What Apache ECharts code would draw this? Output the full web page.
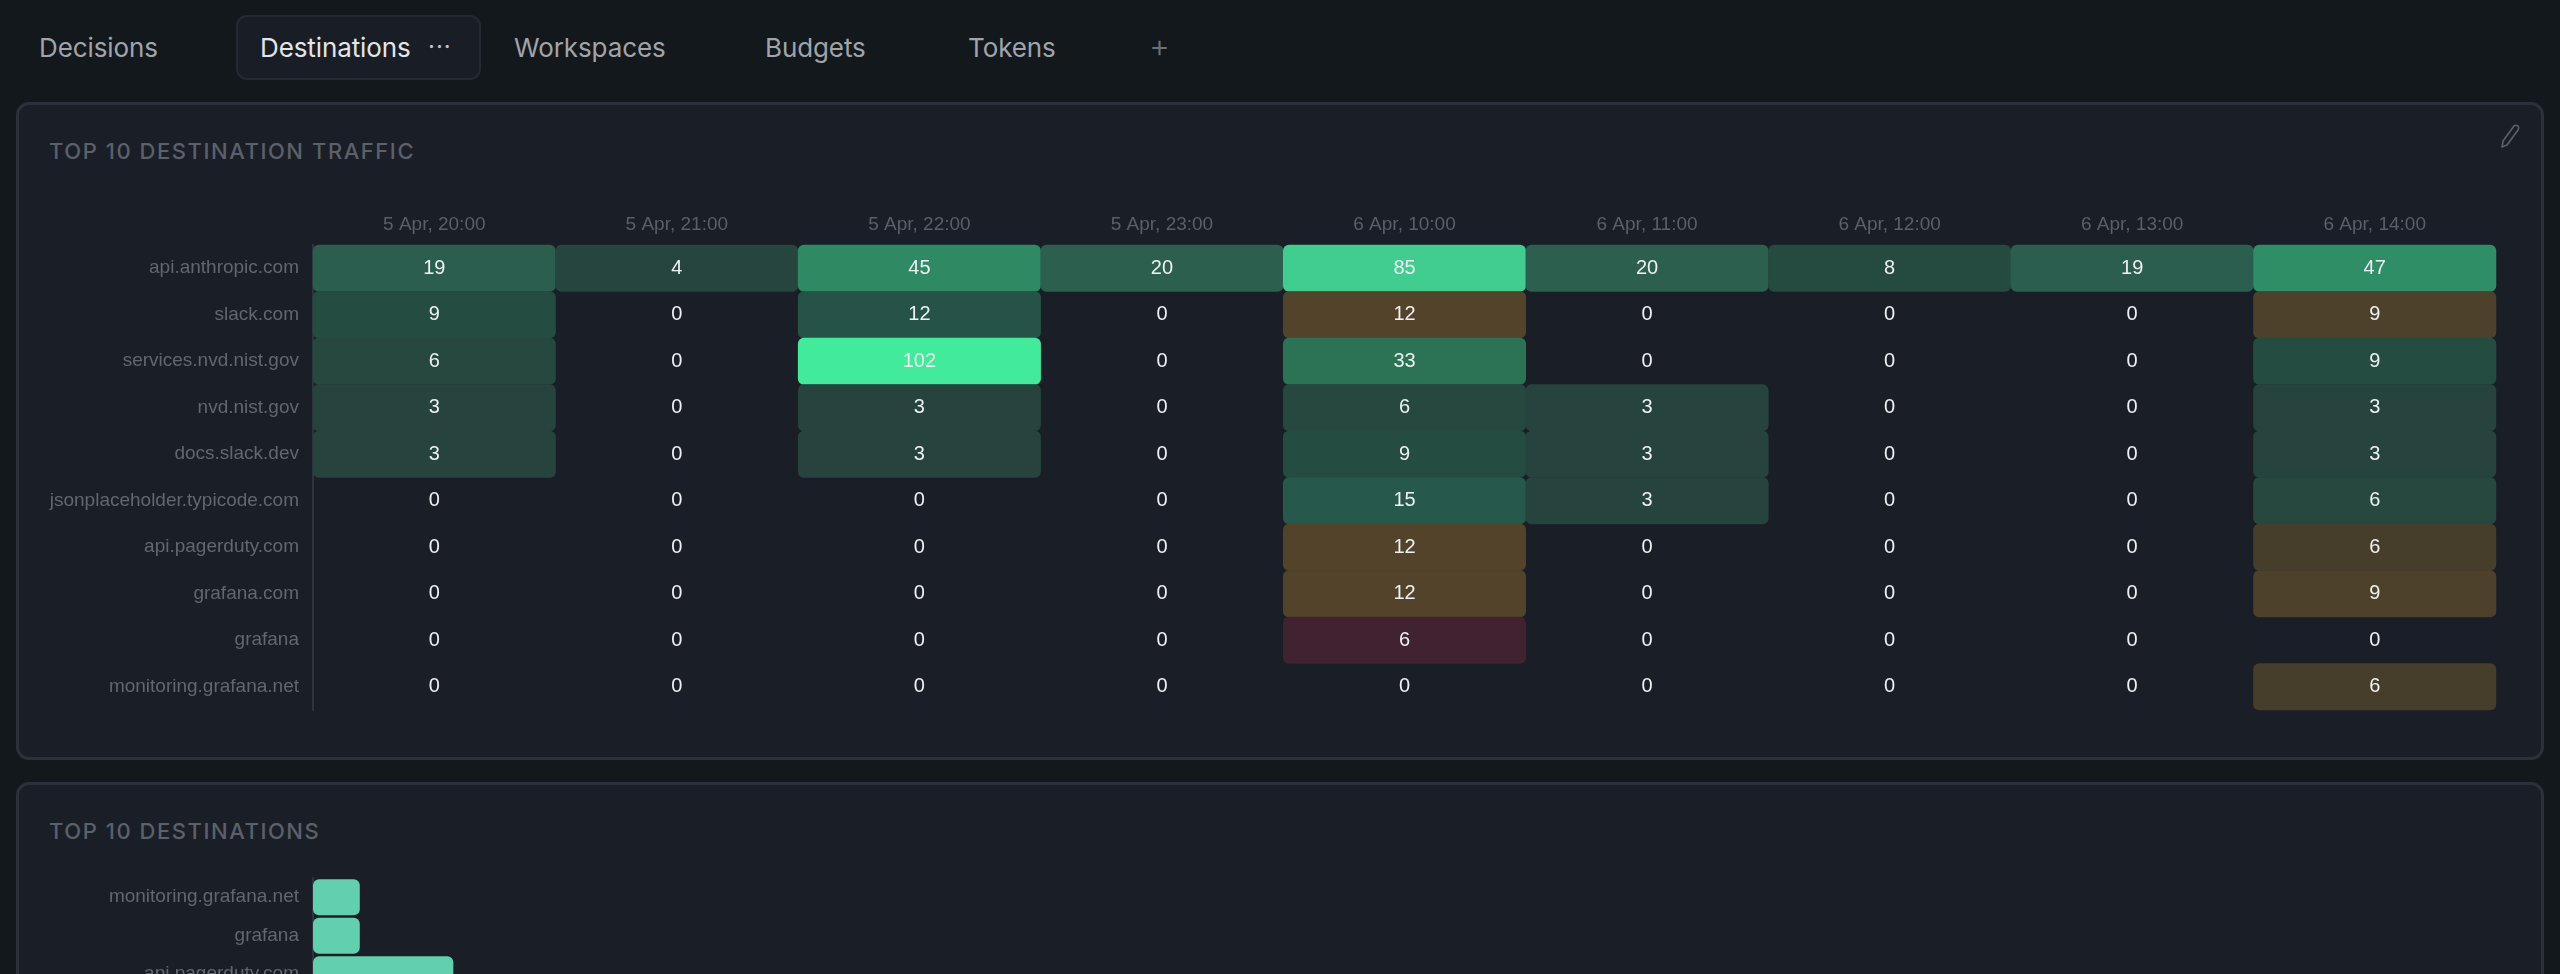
<!DOCTYPE html>
<html>
<head>
<meta charset="utf-8">
<title>Destinations</title>
<script src="https://cdn.jsdelivr.net/npm/echarts@6/dist/echarts.min.js"></script>
<style>
html,body{margin:0;padding:0;width:2560px;height:974px;overflow:hidden;background:#13181c;font-family:Inter,"Liberation Sans",sans-serif}
.tab{position:absolute;top:30px;line-height:36px;font-size:26px;color:#a1a4a9;white-space:nowrap;letter-spacing:-0.1px}
.tab.on{color:#e2e5e9}
#activeTab{position:absolute;left:236px;top:15px;width:241px;height:61px;background:#191d26;border:2px solid #242932;border-radius:11px}
.panel{position:absolute;left:16px;width:2522px;background:#1a1e27;border:3px solid #2b303a;border-radius:13px;box-sizing:content-box}
.ptitle{position:absolute;left:49px;font-size:22px;line-height:28px;color:#5c6069;font-weight:500;letter-spacing:1.55px;white-space:nowrap}
/* canvas runs past the window so the second chart's rows keep their size and get cut by the page edge */
#chart{position:absolute;left:0;top:0;width:2560px;height:1100px}
#pencil{position:absolute;left:2498px;top:123px}
</style>
</head>
<body>
<div id="activeTab"></div>
<div class="tab" style="left:39px">Decisions</div>
<div class="tab on" style="left:260px">Destinations</div>
<div class="tab" style="left:428px;top:29px;font-size:24px;color:#c4c7cb;letter-spacing:1px">···</div>
<div class="tab" style="left:514px">Workspaces</div>
<div class="tab" style="left:765px">Budgets</div>
<div class="tab" style="left:968px">Tokens</div>
<div class="tab" style="left:1149px;top:28px;font-size:32px;color:#6d7076;font-weight:300">+</div>

<div class="panel" style="top:102px;height:652px"></div>
<div class="panel" style="top:782px;height:300px"></div>
<div class="ptitle" style="top:137px">TOP 10 DESTINATION TRAFFIC</div>
<div class="ptitle" style="top:817px">TOP 10 DESTINATIONS</div>
<svg id="pencil" width="24" height="26" viewBox="0 0 24 26" fill="none" stroke="#5d6169" stroke-width="1.6" stroke-linejoin="round">
  <path d="M5 18 L16 3 Q18 1.5 20 3 Q21.5 5 20 7 L9 22 L4 24 Z"/>
</svg>
<div id="chart"></div>

<script>
var hours = ['5 Apr, 20:00','5 Apr, 21:00','5 Apr, 22:00','5 Apr, 23:00','6 Apr, 10:00','6 Apr, 11:00','6 Apr, 12:00','6 Apr, 13:00','6 Apr, 14:00'];
var destinations = ['api.anthropic.com','slack.com','services.nvd.nist.gov','nvd.nist.gov','docs.slack.dev','jsonplaceholder.typicode.com','api.pagerduty.com','grafana.com','grafana','monitoring.grafana.net'];
var traffic = [
    [19,4,45,20,85,20,8,19,47],
    [9,0,12,0,12,0,0,0,9],
    [6,0,102,0,33,0,0,0,9],
    [3,0,3,0,6,3,0,0,3],
    [3,0,3,0,9,3,0,0,3],
    [0,0,0,0,15,3,0,0,6],
    [0,0,0,0,12,0,0,0,6],
    [0,0,0,0,12,0,0,0,9],
    [0,0,0,0,6,0,0,0,0],
    [0,0,0,0,0,0,0,0,6]
];
// cells that are not green in the reference, as row,col
var warnCells = ['1,4','1,8','6,4','6,8','7,4','7,8','9,8'];
var alertCells = ['8,4'];

var topCategories = ['monitoring.grafana.net','grafana','api.pagerduty.com'];
var topValues = [6,6,18];

var greenStops = [[3,'#26433d'],[9,'#254c41'],[15,'#26594c'],[20,'#2c5f4e'],[33,'#2c7356'],[47,'#2f8e66'],[85,'#41cd8f'],[102,'#42eb9b']];

function greenFor(v){
    for(var i=1;i<greenStops.length;i++){
        if(v<=greenStops[i][0]){
            var a=greenStops[i-1],b=greenStops[i];
            var t=Math.max(0,(v-a[0])/(b[0]-a[0]));
            return echarts.color.lerp(t,[a[1],b[1]]);
        }
    }
    return greenStops[greenStops.length-1][1];
}
function colorFor(row,col,v){
    var key=row+','+col;
    if(v==0) return 'rgba(0,0,0,0)';
    if(alertCells.indexOf(key)>=0) return '#402230';
    if(warnCells.indexOf(key)>=0) return echarts.color.lerp((v-6)/6,['#463e2b','#53432b']);
    return greenFor(v);
}

var cells=[];
for(var r=0;r<traffic.length;r++){
    for(var c=0;c<hours.length;c++){
        cells.push({value:[c,r,traffic[r][c]],itemStyle:{color:colorFor(r,c,traffic[r][c]),borderRadius:6}});
    }
}

var font='"Liberation Sans",Helvetica,Arial,sans-serif';
var chart=echarts.init(document.getElementById('chart'),null,{renderer:'canvas'});
chart.setOption({
    backgroundColor:'transparent',
    animation:false,
    grid:[
        {left:313,top:245,width:2183,height:465},
        {left:313,top:878,width:2183,height:115.5}
    ],
    xAxis:[
        {type:'category',gridIndex:0,position:'top',data:hours,
            axisLine:{show:false},axisTick:{show:false},splitLine:{show:false},
            axisLabel:{color:'#5b5f67',fontSize:19,fontFamily:font,margin:11}},
        {type:'value',gridIndex:1,min:0,max:280,show:false}
    ],
    yAxis:[
        {type:'category',gridIndex:0,inverse:true,data:destinations,
            axisLine:{show:true,lineStyle:{color:'#2e333d',width:2}},axisTick:{show:false},splitLine:{show:false},
            axisLabel:{color:'#62666e',fontSize:19,fontFamily:font,margin:14}},
        {type:'category',gridIndex:1,inverse:true,data:topCategories,
            axisLine:{show:true,lineStyle:{color:'#2e333d',width:2}},axisTick:{show:false},splitLine:{show:false},
            axisLabel:{color:'#62666e',fontSize:19,fontFamily:font,margin:14}}
    ],
    series:[
        {type:'heatmap',xAxisIndex:0,yAxisIndex:0,data:cells,
            label:{show:true,color:'#eef0f2',fontSize:20,fontFamily:font,formatter:function(p){return p.value[2]}},
            emphasis:{disabled:true}},
        {type:'bar',xAxisIndex:1,yAxisIndex:1,data:topValues,barWidth:36,
            itemStyle:{color:'#62cfae',borderRadius:6}}
    ]
});
</script>
</body>
</html>
